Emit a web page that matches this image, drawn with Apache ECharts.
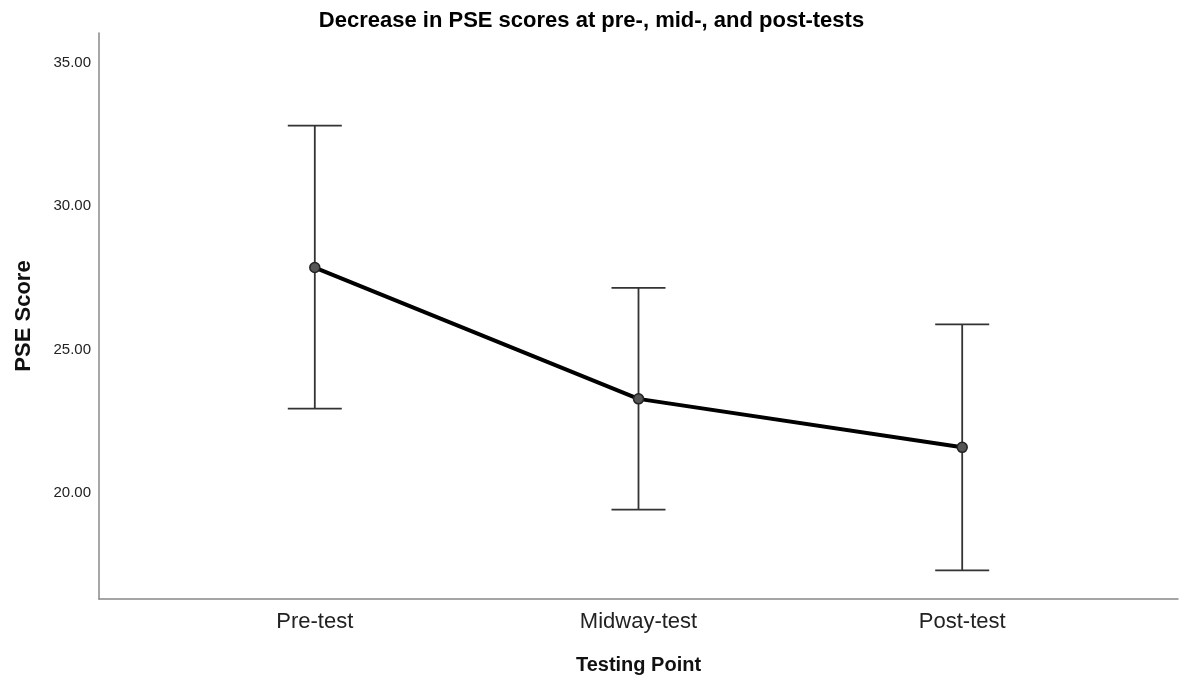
<!DOCTYPE html>
<html>
<head>
<meta charset="utf-8">
<script src="https://cdn.jsdelivr.net/npm/echarts@6/dist/echarts.min.js"></script>
<style>
html,body{margin:0;padding:0;background:#fff;}
#chart{width:1183px;height:681px;}
</style>
</head>
<body>
<div id="chart"></div>
<script>
const categories = ['Pre-test', 'Midway-test', 'Post-test'];
const catPositions = [2, 5, 8];
const means = [27.86, 23.28, 21.59];
const upper = [32.81, 27.15, 25.88];
const lower = [22.94, 19.42, 17.30];
const yTicks = [20, 25, 30, 35];

const FONT = '"Liberation Sans", Arial, sans-serif';
const chart = echarts.init(document.getElementById('chart'));

const lineData = categories.map((c, i) => [catPositions[i], means[i]]);
const errData = categories.map((c, i) => [catPositions[i], lower[i], upper[i]]);

chart.setOption({
  animation: false,
  backgroundColor: '#fff',
  title: {
    text: 'Decrease in PSE scores at pre-, mid-, and post-tests',
    left: 'center',
    top: 5,
    textStyle: {fontFamily: FONT, fontSize: 22, fontWeight: 'bold', color: '#000'}
  },
  grid: {left: 99, right: 5, top: 33, bottom: 82, containLabel: false, outerBoundsMode: 'none'},
  xAxis: {
    type: 'value',
    min: 0, max: 10,
    name: 'Testing Point',
    nameLocation: 'middle',
    nameGap: 56,
    nameTextStyle: {fontFamily: FONT, fontSize: 20, fontWeight: 'bold', color: '#111'},
    axisLine: {show: true, onZero: false, lineStyle: {color: '#888', width: 1.5}},
    axisTick: {show: false},
    splitLine: {show: false},
    axisLabel: {
      customValues: catPositions,
      formatter: v => { const i = catPositions.indexOf(v); return i >= 0 ? categories[i] : ''; },
      fontFamily: FONT, fontSize: 22, color: '#222', margin: 12
    }
  },
  yAxis: {
    type: 'value',
    min: 16.3, max: 36.04,
    name: 'PSE Score',
    nameLocation: 'middle',
    nameGap: 64,
    nameTextStyle: {fontFamily: FONT, fontSize: 22, fontWeight: 'bold', color: '#111'},
    axisLine: {show: true, lineStyle: {color: '#888', width: 1.5}},
    axisTick: {show: false},
    splitLine: {show: false},
    axisLabel: {
      customValues: yTicks,
      formatter: v => v.toFixed(2),
      fontFamily: FONT, fontSize: 15, color: '#222', margin: 8
    }
  },
  series: [
    {
      type: 'custom',
      data: errData,
      z: 2,
      renderItem: function (params, api) {
        const x = api.value(0);
        const lo = api.coord([x, api.value(1)]);
        const hi = api.coord([x, api.value(2)]);
        const hw = 27;
        const style = {stroke: '#333', lineWidth: 1.8};
        return {
          type: 'group',
          children: [
            {type: 'line', shape: {x1: lo[0], y1: lo[1], x2: hi[0], y2: hi[1]}, style: style},
            {type: 'line', shape: {x1: hi[0] - hw, y1: hi[1], x2: hi[0] + hw, y2: hi[1]}, style: style},
            {type: 'line', shape: {x1: lo[0] - hw, y1: lo[1], x2: lo[0] + hw, y2: lo[1]}, style: style}
          ]
        };
      }
    },
    {
      type: 'line',
      data: lineData,
      z: 3,
      lineStyle: {color: '#000', width: 4},
      symbol: 'circle',
      symbolSize: 10,
      itemStyle: {color: '#555', borderColor: '#222', borderWidth: 1.5}
    }
  ]
});
</script>
</body>
</html>
